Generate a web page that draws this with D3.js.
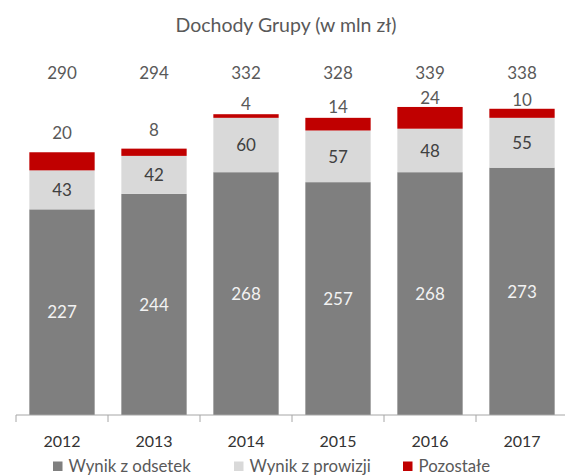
<!DOCTYPE html>
<html>
<head>
<meta charset="utf-8">
<script src="https://cdn.jsdelivr.net/npm/d3@7"></script>
<style>
  body { margin: 0; background: #fff; }
  svg { display: block; font-family: Lato, "Open Sans", sans-serif; }
</style>
</head>
<body>
<div class="canvas"></div>
<script>
// data
const years = ["2012", "2013", "2014", "2015", "2016", "2017"];
const odsetki = [227, 244, 268, 257, 268, 273];
const prowizje = [43, 42, 60, 57, 48, 55];
const pozostale = [20, 8, 4, 14, 24, 10];
const totals = [290, 294, 332, 328, 339, 338];
const seriesNames = ["Wynik z odsetek", "Wynik z prowizji", "Pozostałe"];

const dims = { width: 565, height: 476 };
const colors = ["#7f7f7f", "#d9d9d9", "#c00000"];

const svg = d3
  .select(".canvas")
  .append("svg")
  .attr("width", dims.width)
  .attr("height", dims.height);

const rows = years.map((y, i) => ({
  year: y,
  odsetki: odsetki[i],
  prowizje: prowizje[i],
  pozostale: pozostale[i],
  total: totals[i],
}));

const x = d3.scaleBand().domain(years).range([16, 568]).paddingInner(0.29).paddingOuter(0.145);
const y = d3.scaleLinear().domain([0, 400]).range([415, 52.6]);

const stack = d3.stack().keys(["odsetki", "prowizje", "pozostale"]);
const layers = stack(rows);

// title
svg
  .append("text")
  .attr("x", 286)
  .attr("y", 31.5)
  .attr("text-anchor", "middle")
  .attr("font-size", 19.5)
  .attr("fill", "#595959")
  .text("Dochody Grupy (w mln zł)");

// bars
const groups = svg
  .selectAll("g.layer")
  .data(layers)
  .enter()
  .append("g")
  .attr("class", "layer")
  .attr("fill", (d, i) => colors[i]);

groups
  .selectAll("rect")
  .data((d) => d)
  .enter()
  .append("rect")
  .attr("x", (d) => x(d.data.year))
  .attr("width", x.bandwidth())
  .attr("y", (d) => y(d[1]))
  .attr("height", (d) => y(d[0]) - y(d[1]));

// segment labels (dark + light inside)
const labelColors = ["#f2f2f2", "#404040"];
[0, 1].forEach((k) => {
  svg
    .append("g")
    .selectAll("text")
    .data(layers[k])
    .enter()
    .append("text")
    .attr("x", (d) => x(d.data.year) + x.bandwidth() / 2)
    .attr("y", (d) => (y(d[0]) + y(d[1])) / 2 + 6.2)
    .attr("text-anchor", "middle")
    .attr("font-size", 17)
    .attr("fill", labelColors[k])
    .text((d) => d[1] - d[0]);
});

// "pozostałe" labels above the bar
svg
  .append("g")
  .selectAll("text")
  .data(layers[2])
  .enter()
  .append("text")
  .attr("x", (d) => x(d.data.year) + x.bandwidth() / 2)
  .attr("y", (d) => {
    const top = y(d[1]);
    return top - Math.max(2.5, 2 + (top - 105) * 0.24);
  })
  .attr("text-anchor", "middle")
  .attr("font-size", 17)
  .attr("fill", "#595959")
  .text((d) => d[1] - d[0]);

// totals row
svg
  .append("g")
  .selectAll("text")
  .data(rows)
  .enter()
  .append("text")
  .attr("x", (d) => x(d.year) + x.bandwidth() / 2)
  .attr("y", 78.5)
  .attr("text-anchor", "middle")
  .attr("font-size", 17)
  .attr("fill", "#595959")
  .text((d) => d.total);

// x axis
const axis = svg.append("g").attr("transform", "translate(0,415)");
axis
  .append("line")
  .attr("x1", x.range()[0])
  .attr("x2", x.range()[1])
  .attr("stroke", "#a6a6a6");
const step = x.step();
const edges = years.map((yr) => x(yr) - x.paddingOuter() * step).concat([x.range()[1]]);
axis
  .selectAll("line.tick")
  .data(edges)
  .enter()
  .append("line")
  .attr("class", "tick")
  .attr("x1", (d) => d)
  .attr("x2", (d) => d)
  .attr("y1", 0)
  .attr("y2", 7)
  .attr("stroke", "#a6a6a6");

const labelAxis = d3.axisBottom(x).tickSize(0).tickPadding(0);
const ax = svg
  .append("g")
  .attr("transform", "translate(0,432)")
  .call(labelAxis)
  .attr("font-family", null)
  .attr("font-size", null);
ax.select(".domain").remove();
ax.selectAll("text")
  .attr("dy", 0)
  .attr("y", 14.5)
  .attr("font-size", 16)
  .attr("font-weight", 400)
  .attr("fill", "#333333");

// legend
const legendX = [53, 234, 403];
const legend = svg
  .append("g")
  .selectAll("g")
  .data(seriesNames)
  .enter()
  .append("g")
  .attr("transform", (d, i) => `translate(${legendX[i]}, 461.5)`);

legend
  .append("rect")
  .attr("width", 9.5)
  .attr("height", 9.5)
  .attr("fill", (d, i) => colors[i]);

legend
  .append("text")
  .attr("x", 15.5)
  .attr("y", 10.3)
  .attr("font-size", 16.8)
  .attr("fill", "#595959")
  .text((d) => d);
</script>
</body>
</html>
